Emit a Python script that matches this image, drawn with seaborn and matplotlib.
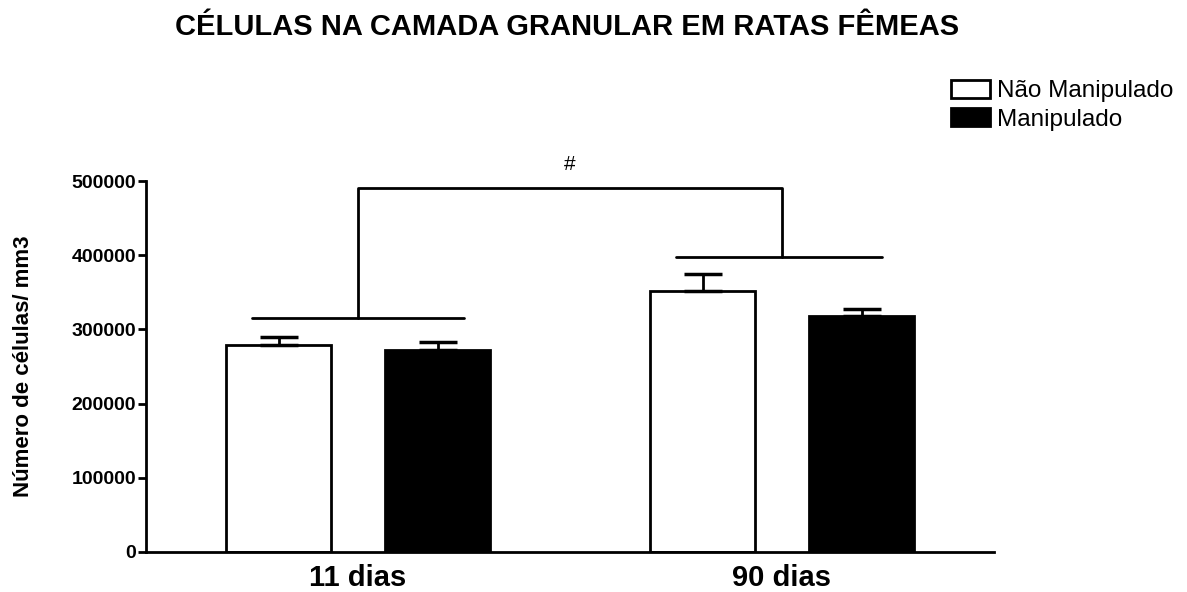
import matplotlib
matplotlib.use("Agg")
import matplotlib.pyplot as plt
import seaborn as sns
import pandas as pd
import numpy as np

# ---- data ----
groups = ["11 dias", "90 dias"]
conditions = ["Não Manipulado", "Manipulado"]
nao_manipulado = [279000, 352000]
manipulado = [272000, 318500]
err_nao_manipulado = [11000, 22000]
err_manipulado = [11000, 8500]
yticks = [0, 100000, 200000, 300000, 400000, 500000]

# significance annotation levels (data units)
bracket_11 = 315000
bracket_90 = 397500
bracket_top = 490000
hash_level = 522000

title = "CÉLULAS NA CAMADA GRANULAR EM RATAS FÊMEAS"
ylabel = "Número de células/ mm3"

df = pd.DataFrame({
    "grupo": groups * 2,
    "condicao": [conditions[0]] * 2 + [conditions[1]] * 2,
    "valor": nao_manipulado + manipulado,
})

sns.set_theme(style="white")
plt.rcParams["font.family"] = ["Liberation Sans", "DejaVu Sans"]
plt.rcParams["text.color"] = "black"
plt.rcParams["axes.labelcolor"] = "black"
plt.rcParams["xtick.color"] = "black"
plt.rcParams["ytick.color"] = "black"

fig = plt.figure(figsize=(11.87, 5.92), dpi=100)
ax = fig.add_axes([146 / 1187, 1 - 552 / 592, 848 / 1187, (552 - 181) / 592])

sns.barplot(data=df, x="grupo", y="valor", hue="condicao", order=groups,
            hue_order=conditions, palette=["white", "black"], edgecolor="black",
            linewidth=2, width=0.75, gap=0.34, errorbar=None, ax=ax, legend=True)

# error bars (upward only)
errs = {conditions[0]: err_nao_manipulado, conditions[1]: err_manipulado}
vals = {conditions[0]: nao_manipulado, conditions[1]: manipulado}
for cont, cond in zip(ax.containers, conditions):
    xs = [p.get_x() + p.get_width() / 2 for p in cont.patches]
    ax.errorbar(xs, vals[cond], yerr=[np.zeros(len(xs)), errs[cond]], fmt="none",
                ecolor="black", elinewidth=2, capsize=14, capthick=2.5, zorder=1)

# brackets
lw = 2
ax.plot([-0.25, 0.25], [bracket_11, bracket_11], color="black", lw=lw, clip_on=False)
ax.plot([0.75, 1.235], [bracket_90, bracket_90], color="black", lw=lw, clip_on=False)
ax.plot([0, 0, 1, 1], [bracket_11, bracket_top, bracket_top, bracket_90],
        color="black", lw=lw, clip_on=False)
ax.text(0.5, hash_level, "#", ha="center", va="center", fontsize=15, clip_on=False)

ax.set_xlim(-0.5, 1.5)
ax.set_ylim(0, 500000)
ax.set_yticks(yticks)
ax.set_yticklabels([str(v) for v in yticks], fontweight="bold", fontsize=14)
ax.set_xticks([0, 1])
ax.set_xticklabels(groups, fontweight="bold", fontsize=21)
ax.tick_params(axis="y", length=6, width=2, direction="out", pad=1, left=True)
ax.tick_params(axis="x", length=0, pad=9)
ax.set_xlabel("")
ax.set_ylabel(ylabel, fontweight="bold", fontsize=16, labelpad=27)
for s in ["top", "right"]:
    ax.spines[s].set_visible(False)
for s in ["left", "bottom"]:
    ax.spines[s].set_linewidth(2)
    ax.spines[s].set_color("black")

handles, labels = ax.get_legend_handles_labels()
ax.legend(handles, labels, loc="upper left", bbox_to_anchor=(951 / 1187, 1 - 80 / 592),
          bbox_transform=fig.transFigure, frameon=False, fontsize=17.5, borderpad=0,
          borderaxespad=0, handlelength=1.6, handleheight=0.75, handletextpad=0.3,
          labelspacing=0.25)

fig.text(567 / 1187, 1 - 27 / 592, title, ha="center", va="center",
         fontweight="bold", fontsize=21)

fig.savefig("out.png", dpi=100)
